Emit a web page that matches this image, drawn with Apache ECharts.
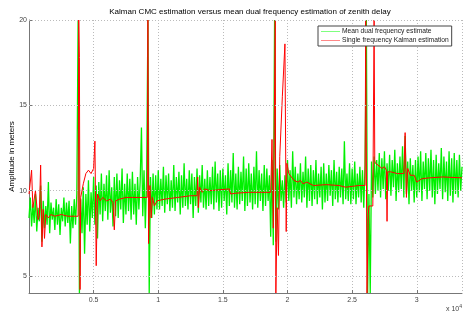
<!DOCTYPE html>
<html>
<head>
<meta charset="utf-8">
<script src="https://cdn.jsdelivr.net/npm/echarts@6.0.0/dist/echarts.min.js"></script>
<style>
html, body { margin: 0; padding: 0; background: #fff; }
#chart { width: 463px; height: 317px; }
</style>
</head>
<body>
<div id="chart"></div>
<script>
// mean dual frequency estimate, one value every 100 samples (0 .. 33500)
var STEP = 100;
var greenVals = [
  8.4, 9.6, 7.9, 9.2, 8.1, 9.8, 7.6, 9.0, 8.2, 10.3,
  7.0, 9.4, 7.8, 9.1, 8.0, 10.5, 7.5, 9.3, 8.3, 9.0,
  7.7, 9.5, 8.0, 9.2, 7.4, 9.0, 8.2, 9.6, 7.9, 9.3,
  8.1, 9.4, 6.9, 9.1, 7.8, 9.5, 8.0, 9.8, 20, 4.0,
  9.5, 7.5, 10.2, 6.3, 9.8, 8.0, 10.6, 7.6, 9.9, 8.4,
  10.8, 8.0, 10.3, 7.2, 10.5, 8.6, 11.0, 8.2, 10.4, 8.8,
  10.9, 8.3, 11.2, 8.7, 10.2, 7.9, 10.8, 8.5, 11.0, 8.4,
  10.6, 8.9, 11.3, 8.1, 10.4, 8.6, 11.0, 8.8, 10.7, 8.3,
  11.1, 8.6, 10.4, 8.0, 10.8, 8.9, 10.5, 13.7, 8.5, 11.2,
  7.8, 10.6, 20, 4.0, 10.8, 8.4, 11.0, 8.6, 10.9, 8.9,
  11.2, 8.9, 10.7, 9.1, 11.4, 8.7, 10.9, 9.2, 11.0, 8.8,
  10.6, 9.0, 11.5, 8.8, 10.8, 9.3, 11.1, 8.6, 10.9, 9.0,
  11.6, 9.1, 10.7, 8.9, 11.2, 9.2, 11.0, 8.4, 10.8, 9.1,
  11.3, 8.7, 10.9, 9.3, 11.5, 9.0, 10.7, 8.9, 11.2, 9.1,
  10.8, 9.2, 11.4, 8.9, 11.7, 9.3, 11.0, 8.8, 11.2, 9.0,
  11.3, 9.4, 10.9, 8.6, 11.6, 9.1, 11.2, 9.3, 12.2, 9.0,
  11.0, 8.9, 11.4, 9.2, 11.1, 9.4, 12.0, 8.8, 11.3, 9.1,
  11.6, 9.3, 11.0, 8.9, 11.4, 9.2, 12.3, 9.0, 11.2, 9.4,
  11.0, 8.8, 11.5, 9.1, 11.3, 9.4, 10.9, 7.3, 11.8, 6.8,
  20, 7.0, 11.3, 8.9, 11.5, 9.4, 10.6, 9.0, 10.9, 9.3,
  11.8, 9.4, 11.2, 9.0, 12.3, 9.6, 11.4, 9.2, 11.0, 9.5,
  11.6, 9.3, 11.1, 9.6, 12.0, 9.0, 11.3, 9.4, 11.5, 9.1,
  11.2, 9.5, 11.8, 9.2, 11.0, 9.6, 11.4, 8.9, 11.6, 9.3,
  11.0, 9.4, 11.5, 9.7, 11.2, 9.1, 11.8, 9.5, 11.1, 9.3,
  11.4, 9.6, 11.3, 9.2, 12.9, 9.5, 11.0, 9.4, 11.6, 9.2,
  11.3, 9.5, 11.7, 9.2, 11.0, 9.6, 11.4, 9.3, 11.2, 9.0,
  11.5, 20, 4.0, 9.8, 4.0, 11.7, 9.6, 12.0, 9.8, 11.8,
  10.0, 12.2, 9.6, 11.9, 10.1, 12.3, 9.5, 11.6, 10.0, 12.1,
  9.7, 11.8, 10.2, 12.4, 9.4, 11.6, 9.9, 12.0, 10.1, 12.6,
  9.6, 13.2, 9.8, 11.7, 9.2, 11.9, 10.0, 11.5, 9.3, 11.8,
  9.6, 12.0, 9.9, 12.3, 9.4, 11.7, 10.1, 12.2, 9.5, 11.9,
  10.0, 12.4, 9.6, 11.8, 9.2, 12.1, 9.8, 11.6, 10.1, 12.5,
  9.5, 12.0, 9.9, 11.7, 9.4, 12.3, 9.7, 11.9, 9.3, 12.2,
  9.8, 11.8, 9.6, 12.1, 10.0, 11.4
];

// single frequency Kalman estimation (sample index, value)
var redX = [0, 200, 300, 500, 700, 800, 900, 1000, 1100, 1200, 1300, 1500, 1700, 2000, 2500, 3000, 3500, 3800,
  3850, 3900, 3950, 4000, 4200, 4400, 4600, 4800, 5000, 5100, 5200, 5300, 5500, 5700, 6000, 6300, 6500, 6600, 6700,
  7000, 7500, 8000, 8500, 9150, 9200, 9250, 9350, 9450, 9550, 9700, 9900, 10500, 11500, 12500, 13000, 13050, 13100,
  13200, 13400, 13600, 14000, 15500, 15600, 16000, 17000, 18000, 18700, 18800, 18900, 19050, 19100, 19200, 19300,
  19400, 19600, 19800, 19850, 19900, 19950, 20100, 20300, 20500, 20800, 21000, 21200, 21500, 22000, 23000, 24000,
  24500, 25000, 25500, 26000, 26050, 26150, 26250, 26300, 26600, 26700, 26750, 26800, 27000, 27300, 27500, 27650,
  27700, 27750, 28000, 28500, 29000, 29100, 29200, 29300, 29500, 29800, 30000, 30100, 30400, 31000, 32000, 33500];
var redY = [9.8, 11.2, 9.0, 10.0, 8.3, 8.5, 11.5, 6.7, 8.9, 7.2, 8.6, 8.4, 8.6, 8.5, 8.6, 8.5, 8.5, 8.5,
  20, 17.8, 4.2, 9.6, 10.4, 11.0, 11.2, 11.0, 11.3, 12.9, 5.6, 9.8, 9.4, 9.6, 9.4, 9.5, 9.3, 7.7, 9.4,
  9.5, 9.6, 9.6, 9.6, 9.6, 20, 6.9, 10.3, 8.4, 9.6, 9.1, 9.4, 9.5, 9.6, 9.7, 9.7, 10.8, 9.0,
  10.2, 9.9, 10.1, 10.0, 10.1, 9.8, 9.85, 9.9, 9.9, 9.9, 13.0, 7.8, 20, 4.0, 9.0, 6.2,
  12.0, 15.5, 18.6, 18.6, 7.6, 11.6, 11.0, 10.8, 10.6, 10.5, 10.6, 10.4, 10.5, 10.3, 10.35, 10.3,
  10.2, 10.25, 10.3, 10.3, 20, 4.0, 8.6, 9.1, 9.1, 20, 11.8, 11.6, 11.5, 11.3, 11.4, 11.2,
  8.2, 11.1, 11.1, 11.0, 11.0, 13.4, 9.6, 11.3, 10.9, 10.9, 10.5, 10.6, 10.7, 10.75, 10.8, 10.75];

var yTicks = [5, 10, 15, 20];

var greenData = greenVals.map(function (v, i) { return [i * STEP, v]; });
var redData = redX.map(function (x, i) { return [x, redY[i]]; });

var dom = document.getElementById('chart');
var myChart = echarts.init(dom, null, { renderer: 'canvas' });
var font = 'Liberation Sans';

var option = {
  animation: false,
  title: {
    text: 'Kalman CMC estimation versus mean dual frequency estimation of zenith delay',
    left: 245,
    textAlign: 'center',
    top: 3,
    textStyle: { fontFamily: font, fontSize: 8, fontWeight: 'normal', color: '#000' }
  },
  legend: {
    left: 318,
    top: 26,
    orient: 'vertical',
    backgroundColor: '#fff',
    borderColor: '#444',
    borderWidth: 1,
    borderRadius: 0,
    padding: [2, 3, 2, 3],
    itemGap: 2,
    itemWidth: 19,
    itemHeight: 1,
    icon: 'rect',
    data: [
      { name: 'Mean dual frequency estimate', itemStyle: { color: '#7fff7f' } },
      { name: 'Single frequency Kalman estimation', itemStyle: { color: '#ff8888' } }
    ],
    textStyle: { fontFamily: font, fontSize: 6.7, color: '#222', padding: [0, 0, 0, -3] }
  },
  grid: { left: 29, right: 1, top: 20, bottom: 24, containLabel: false, outerBoundsMode: 'none' },
  xAxis: {
    type: 'value',
    min: 0,
    max: 33500,
    interval: 5000,
    axisLine: { lineStyle: { color: '#777' } },
    axisTick: { inside: true, length: 3, lineStyle: { color: '#777' } },
    axisLabel: {
      fontFamily: font, fontSize: 7, color: '#444', margin: 4,
      showMaxLabel: false, showMinLabel: false,
      formatter: function (v) { return v === 0 || v === 33500 ? '' : String(v / 10000); }
    },
    splitLine: { show: true, lineStyle: { color: '#bbb', type: [1, 2] } }
  },
  yAxis: {
    type: 'value',
    min: 4,
    max: 20,
    name: 'Amplitude in meters',
    nameLocation: 'middle',
    nameGap: 13,
    nameMoveOverlap: false,
    nameTextStyle: { fontFamily: font, fontSize: 8, color: '#000' },
    axisLine: { show: true, lineStyle: { color: '#777' } },
    axisTick: { inside: true, length: 3, customValues: yTicks, lineStyle: { color: '#777' } },
    axisLabel: { fontFamily: font, fontSize: 7, color: '#444', margin: 2, customValues: yTicks },
    splitLine: { show: false }
  },
  graphic: [{
    type: 'text',
    left: 446,
    top: 304,
    style: {
      text: 'x 10{s|4}',
      fontFamily: font, fontSize: 7, fill: '#444',
      rich: { s: { fontSize: 5, verticalAlign: 'top', padding: [0, 0, 6, 0] } }
    }
  }],
  series: [{
    name: 'grid',
    type: 'line',
    data: [],
    silent: true,
    z: 1,
    markLine: {
      silent: true,
      symbol: 'none',
      label: { show: false },
      lineStyle: { color: '#bbb', type: [1, 2], width: 1 },
      data: yTicks.map(function (v) { return { yAxis: v }; })
    }
  }, {
    name: 'Mean dual frequency estimate',
    type: 'line',
    data: greenData,
    showSymbol: false,
    symbol: 'none',
    z: 2,
    lineStyle: { color: '#00f000', width: 1.3 },
    itemStyle: { color: '#00f000' }
  }, {
    name: 'Single frequency Kalman estimation',
    type: 'line',
    data: redData,
    showSymbol: false,
    symbol: 'none',
    z: 3,
    lineStyle: { color: '#ff0000', width: 1 },
    itemStyle: { color: '#ff0000' }
  }]
};

myChart.setOption(option);
window.addEventListener('resize', myChart.resize);
</script>
</body>
</html>
